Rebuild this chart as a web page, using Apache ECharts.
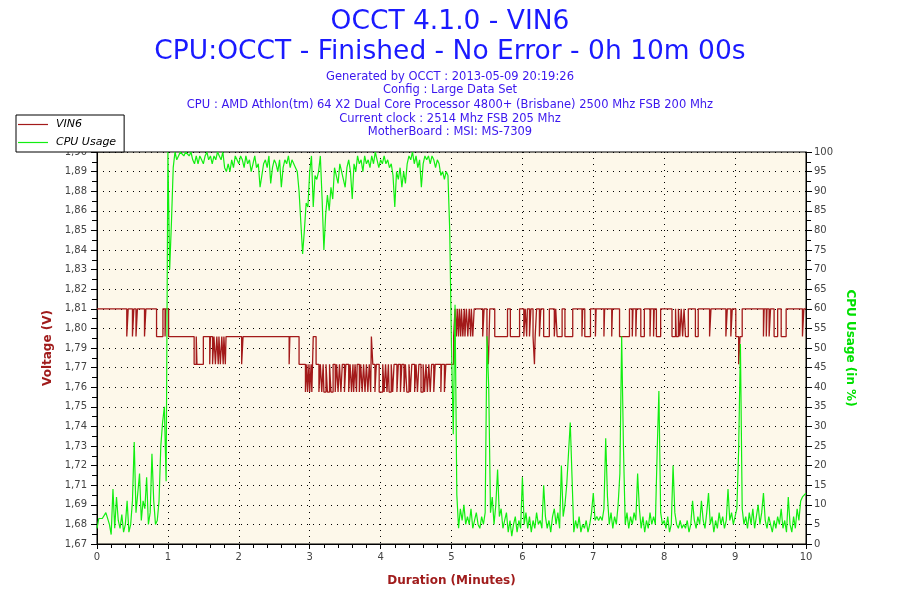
<!DOCTYPE html>
<html>
<head>
<meta charset="utf-8">
<script src="https://cdn.jsdelivr.net/npm/echarts@6/dist/echarts.min.js"></script>
<style>
html,body{margin:0;padding:0;background:#fff;}
#chart{width:900px;height:600px;}
</style>
</head>
<body>
<div id="chart"></div>
<script>
// ---- Data ----
const titleMain = 'OCCT 4.1.0 - VIN6';
const titleSub = 'CPU:OCCT - Finished - No Error - 0h 10m 00s';
const infoLines = [
  'Generated by OCCT : 2013-05-09 20:19:26',
  'Config : Large Data Set',
  'CPU : AMD Athlon(tm) 64 X2 Dual Core Processor 4800+ (Brisbane) 2500 Mhz FSB 200 Mhz',
  'Current clock : 2514 Mhz FSB 205 Mhz',
  'MotherBoard : MSI: MS-7309'
];
const seriesNames = ['VIN6', 'CPU Usage'];
const xTickLabels = ['0','1','2','3','4','5','6','7','8','9','10'];
const voltTickLabels = ['1,67','1,68','1,69','1,71','1,72','1,73','1,74','1,75','1,76','1,77','1,79',
  '1,80','1,81','1,82','1,83','1,84','1,85','1,86','1,88','1,89','1,90'];
const cpuTickLabels = ['0','5','10','15','20','25','30','35','40','45','50','55','60','65','70','75','80','85','90','95','100'];

// VIN6 step changes: time (minutes) and voltage held from that time
const vinTime = [
  0.00,0.42,0.44,0.50,0.52,0.55,0.57,0.67,0.69,0.84,0.93,0.96,0.97,1.01,
  1.37,1.40,1.41,1.50,1.59,1.60,1.63,1.65,1.67,1.69,1.71,1.72,1.74,1.76,1.78,1.79,1.81,1.82,
  2.04,2.06,2.71,2.72,2.85,2.94,2.96,2.97,2.99,3.00,3.02,3.03,3.05,3.09,
  3.13,3.15,3.17,3.19,3.20,3.23,3.25,3.28,3.30,3.33,3.36,3.38,3.40,3.42,3.44,3.46,3.49,3.51,
  3.55,3.57,3.59,3.61,3.62,3.64,3.66,3.67,3.70,3.72,3.74,3.76,3.78,3.80,3.82,3.84,3.86,3.87,3.89,
  3.92,3.94,3.98,4.03,4.05,4.07,4.09,4.11,4.12,4.15,4.17,4.19,4.23,4.25,4.28,4.30,4.33,4.35,4.37,
  4.40,4.42,4.44,4.48,4.50,4.52,4.54,4.57,4.60,4.62,4.64,4.66,4.68,4.70,4.72,4.75,4.77,4.85,4.86,
  4.90,4.92,5.03,5.05,5.07,5.08,5.10,5.11,5.13,5.14,5.16,5.18,5.19,5.21,5.23,5.25,5.27,5.28,5.30,
  5.32,5.44,5.46,5.50,5.52,5.54,5.61,5.79,5.83,5.96,6.02,6.04,6.06,6.07,6.10,6.12,6.15,6.17,6.18,
  6.20,6.24,6.26,6.30,6.38,6.45,6.47,6.49,6.56,6.60,6.71,6.84,6.85,6.88,6.96,7.03,7.04,7.15,7.16,
  7.26,7.27,7.37,7.51,7.55,7.56,7.60,7.61,7.67,7.72,7.80,7.81,7.85,7.86,7.89,7.95,8.11,8.16,8.17,
  8.20,8.22,8.24,8.26,8.28,8.30,8.34,8.44,8.48,8.64,8.66,8.87,8.89,8.94,8.96,9.01,9.05,9.07,9.10,
  9.40,9.41,9.44,9.45,9.48,9.50,9.55,9.60,9.65,9.72,9.95,9.97,10.00
];
const vinVolt = [
  1.808,1.792,1.808,1.792,1.808,1.792,1.808,1.792,1.808,1.792,1.808,1.792,1.808,1.792,
  1.776,1.792,1.776,1.792,1.776,1.792,1.776,1.792,1.776,1.792,1.776,1.792,1.776,1.792,1.776,1.792,1.776,1.792,
  1.776,1.792,1.776,1.792,1.776,1.760,1.776,1.760,1.776,1.760,1.776,1.760,1.792,1.776,
  1.760,1.776,1.760,1.776,1.760,1.776,1.760,1.776,1.760,1.776,1.760,1.776,1.760,1.776,1.760,1.776,1.760,1.776,
  1.760,1.776,1.760,1.776,1.760,1.776,1.760,1.776,1.760,1.776,1.760,1.776,1.760,1.776,1.760,1.776,1.760,1.792,1.776,
  1.760,1.776,1.760,1.776,1.760,1.776,1.760,1.776,1.760,1.776,1.760,1.776,1.760,1.776,1.760,1.776,1.760,1.776,1.760,
  1.776,1.760,1.776,1.760,1.776,1.760,1.776,1.760,1.776,1.760,1.776,1.760,1.776,1.760,1.776,1.760,1.776,1.760,1.776,
  1.760,1.776,1.792,1.808,1.792,1.808,1.792,1.808,1.792,1.808,1.792,1.808,1.792,1.808,1.792,1.808,1.792,1.808,1.792,
  1.808,1.792,1.808,1.792,1.776,1.808,1.792,1.808,1.792,1.808,1.792,1.808,1.792,1.808,1.792,1.808,1.792,1.776,1.792,
  1.808,1.792,1.808,1.792,1.808,1.792,1.808,1.792,1.808,1.792,1.808,1.792,1.808,1.792,1.808,1.792,1.808,1.792,1.808,
  1.792,1.808,1.792,1.808,1.792,1.808,1.792,1.808,1.792,1.808,1.792,1.808,1.792,1.808,1.792,1.808,1.792,1.808,1.792,
  1.808,1.792,1.808,1.792,1.808,1.792,1.808,1.792,1.808,1.792,1.808,1.792,1.808,1.792,1.808,1.792,1.776,1.792,1.808,
  1.792,1.808,1.792,1.808,1.792,1.808,1.792,1.808,1.792,1.808,1.792,1.808,1.808
];

// CPU usage (%) sampled every 0.025 minute (1.5 s) from 0 to 10
const cpuStep = 0.025;
const cpuUsage = [
  // 0.0 - 0.975
  4, 6.5, 7, 6.5, 7, 8, 7.5, 5, 2.4, 14, 4, 12, 6, 4, 7.5, 3, 5, 11, 3, 5,
  11, 26, 8, 13, 18, 6, 11, 9, 17, 5, 8, 23, 11, 5, 6, 11, 25, 31, 35, 16,
  // 1.0 - 1.975
  100, 70, 82, 96, 100, 98, 99, 100, 100, 99, 100, 100, 99, 100, 98, 97, 99, 97, 99, 98,
  97, 99, 100, 98, 99, 97, 99, 98, 100, 99, 98, 100, 96, 95, 97, 95, 98, 96, 99, 98,
  // 2.0 - 2.975
  97, 99, 98, 96, 99, 97, 98, 95, 97, 99, 96, 97, 91, 94, 97, 98, 96, 99, 92, 96,
  98, 97, 95, 98, 91, 96, 98, 97, 99, 96, 98, 97, 96, 95, 90, 82, 74, 80, 87, 86,
  // 3.0 - 3.975
  95, 99, 86, 94, 93, 95, 99, 88, 75, 84, 89, 85, 91, 88, 96, 94, 92, 97, 95, 93,
  91, 96, 98, 95, 88, 97, 95, 99, 97, 98, 95, 99, 97, 98, 96, 99, 97, 100, 98, 96,
  // 4.0 - 4.975
  98, 97, 99, 97, 98, 96, 97, 94, 86, 95, 93, 96, 91, 95, 92, 97, 99, 98, 100, 97,
  99, 96, 98, 91, 97, 99, 98, 99, 97, 99, 98, 96, 98, 97, 94, 95, 93, 95, 94, 80,
  // 5.0 - 5.975
  50, 28, 61, 12.6, 4, 9, 6, 10, 5, 7, 5, 9, 4, 6, 8, 5, 4, 7, 5, 8,
  53, 40, 8, 12, 5, 10, 19, 7, 9, 4, 6, 8, 3, 6, 2, 5, 7, 3, 6, 4,
  // 6.0 - 6.975
  17, 5, 8, 4, 7, 3, 6, 4, 8, 5, 6, 4, 15, 7, 4, 6, 3, 7, 9, 5,
  8, 4, 20, 7, 10, 15, 23, 31, 17, 3, 6, 4, 7, 3, 5, 4, 6, 3, 5, 8,
  // 7.0 - 7.975
  13, 6, 7, 6, 7, 6, 9, 27, 12, 5, 8, 4, 7, 5, 10, 18, 53, 25, 5, 8,
  4, 7, 5, 8, 6, 18, 9, 4, 7, 3, 6, 4, 8, 5, 7, 5, 23, 39, 8, 5,
  // 8.0 - 8.975
  6, 4, 7, 3, 5, 20, 8, 5, 4, 6, 4, 5, 4, 6, 3, 5, 11, 6, 4, 7,
  5, 11, 6, 4, 8, 13, 5, 7, 3, 6, 4, 8, 5, 7, 4, 6, 14, 6, 8, 5,
  // 9.0 - 10.0
  7, 9, 24, 51, 9, 5, 7, 4, 8, 5, 9, 4, 7, 10, 5, 8, 13, 6, 4, 7,
  5, 3, 6, 4, 7, 5, 9, 4, 6, 3, 12, 5, 3, 7, 4, 9, 6, 11, 12, 12,
  13
];

// ---- Axis ranges ----
const voltStep = 0.0113;
const voltMin = voltStep * 148;      // 1.6724
const voltMax = voltMin + voltStep * 20;

const vinData = vinTime.map((t, i) => [t, vinVolt[i]]);
const cpuData = cpuUsage.map((v, i) => [+(i * cpuStep).toFixed(3), v]);

const font = 'DejaVu Sans, Verdana, sans-serif';
const dotted = { color: '#000', width: 1, type: [1, 5] };
const infoTops = [71.5, 84.5, 99.5, 113.5, 126.5];

const titles = [
  { text: titleMain, left: 'center', top: 9, padding: 0,
    textStyle: { fontFamily: font, fontSize: 26.5, fontWeight: 'normal', color: '#1a1aff' } },
  { text: titleSub, left: 'center', top: 39, padding: 0,
    textStyle: { fontFamily: font, fontSize: 26.5, fontWeight: 'normal', color: '#1a1aff' } }
].concat(infoLines.map((s, i) => ({
  text: s, left: 'center', top: infoTops[i], padding: 0,
  textStyle: { fontFamily: font, fontSize: 11.5, fontWeight: 'normal', color: '#3a16ee' }
})));

const chart = echarts.init(document.getElementById('chart'), null, { renderer: 'canvas' });
chart.setOption({
  backgroundColor: '#ffffff',
  animation: false,
  title: titles,
  legend: {
    orient: 'vertical', left: 16, top: 115,
    padding: [3, 8, 3, 2], itemGap: 5, itemWidth: 30, itemHeight: 1.2, icon: 'rect',
    backgroundColor: '#fff', borderColor: '#000', borderWidth: 1, borderRadius: 0,
    data: seriesNames,
    textStyle: { fontFamily: font, fontSize: 11, fontStyle: 'italic', color: '#000', padding: [0, 0, 0, 3], lineHeight: 13 }
  },
  grid: { left: 97, right: 94, top: 152, bottom: 56, show: true, backgroundColor: '#fdf8ea',
          borderColor: '#000', borderWidth: 1 },
  xAxis: {
    type: 'value', min: 0, max: 10, interval: 1,
    name: 'Duration (Minutes)', nameLocation: 'middle', nameGap: 31,
    nameTextStyle: { fontFamily: font, fontSize: 12, fontWeight: 'bold', color: '#a01c1c' },
    axisLine: { lineStyle: { color: '#000', width: 1 } },
    axisTick: { show: true, length: 5, lineStyle: { color: '#000' } },
    minorTick: { show: true, splitNumber: 5, length: 4, lineStyle: { color: '#000' } },
    axisLabel: { fontFamily: font, fontSize: 10, color: '#444', margin: 8,
      formatter: v => xTickLabels[Math.round(v)] ?? '' },
    splitLine: { show: true, lineStyle: dotted }
  },
  yAxis: [
    {
      type: 'value', min: voltMin, max: voltMax, interval: voltStep, position: 'left',
      name: 'Voltage (V)', nameLocation: 'middle', nameGap: 43, nameRotate: 90,
      nameTextStyle: { fontFamily: font, fontSize: 12, fontWeight: 'bold', color: '#a01c1c' },
      axisLine: { show: true, lineStyle: { color: '#000', width: 1 } },
      axisTick: { show: true, length: 6, lineStyle: { color: '#000' } },
      minorTick: { show: true, splitNumber: 2, length: 5, lineStyle: { color: '#000' } },
      axisLabel: { fontFamily: font, fontSize: 10, color: '#444', margin: 10,
        formatter: v => voltTickLabels[Math.round((v - voltMin) / voltStep)] ?? '' },
      splitLine: { show: true, lineStyle: dotted }
    },
    {
      type: 'value', min: 0, max: 100, interval: 5, position: 'right',
      name: 'CPU Usage (in %)', nameLocation: 'middle', nameGap: 36, nameRotate: -90,
      nameTextStyle: { fontFamily: font, fontSize: 12, fontWeight: 'bold', color: '#00e000' },
      axisLine: { show: true, lineStyle: { color: '#000', width: 1 } },
      axisTick: { show: true, length: 6, lineStyle: { color: '#000' } },
      minorTick: { show: true, splitNumber: 2, length: 5, lineStyle: { color: '#000' } },
      axisLabel: { fontFamily: font, fontSize: 10, color: '#444', margin: 8,
        formatter: v => cpuTickLabels[Math.round(v / 5)] ?? '' },
      splitLine: { show: false }
    }
  ],
  series: [
    { name: seriesNames[0], type: 'line', yAxisIndex: 0, step: 'end', data: vinData,
      symbol: 'none', color: '#a31a1a', lineStyle: { color: '#a31a1a', width: 1.3 }, z: 2 },
    { name: seriesNames[1], type: 'line', yAxisIndex: 1, data: cpuData,
      symbol: 'none', color: '#11ee11', lineStyle: { color: '#11ee11', width: 1.2 }, z: 3 }
  ]
});
</script>
</body>
</html>
